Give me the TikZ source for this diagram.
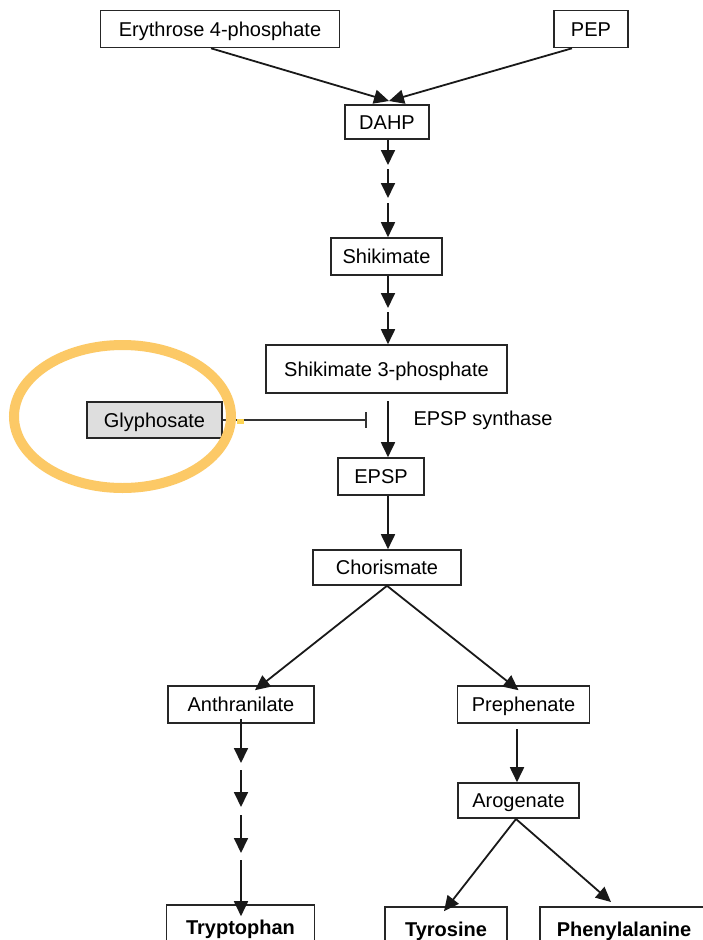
\documentclass[tikz,border=0pt]{standalone}
\usepackage{fontspec}
\setmainfont{Liberation Sans}
\usetikzlibrary{arrows.meta}
\definecolor{hilite}{HTML}{FCC966}
\begin{document}
\begin{tikzpicture}[x=1pt,y=-1pt,
  box/.style={draw=black!85,line width=1.6pt,inner sep=0pt,text height=14.3pt,text depth=0pt,
    font=\fontsize{20}{24}\selectfont},
  endbox/.style={box,font=\fontsize{20}{24}\selectfont\bfseries},
  arr/.style={draw=black!90,line width=1.8pt,-{Triangle[length=15pt,width=14pt]}},
  inhib/.style={draw=black!80,line width=1.6pt,-{Bar[width=16pt,line width=2pt]}},
  lbl/.style={font=\fontsize{20}{24}\selectfont}]
\useasboundingbox (0,0) rectangle (702,940);
\fill[white] (0,0) rectangle (702,940);

% metabolite boxes
\node[box,minimum width=239pt,minimum height=37pt] (e4p)  at (220,29)    {Erythrose 4-phosphate};
\node[box,minimum width=74pt, minimum height=37pt] (pep)  at (591,29)    {PEP};
\node[box,minimum width=84pt, minimum height=34pt] (dahp) at (387,122)   {DAHP};
\node[box,minimum width=111pt,minimum height=37pt] (shik) at (386.5,256.5) {Shikimate};
\node[box,minimum width=241pt,minimum height=48pt] (s3p)  at (386.5,369) {Shikimate 3-phosphate};
\node[box,fill=black!13,minimum width=135pt,minimum height=36pt] (gly) at (154.5,420) {Glyphosate};
\node[box,minimum width=86pt, minimum height=37pt] (epsp) at (381,476.5) {EPSP};
\node[box,minimum width=148pt,minimum height=35pt] (chor) at (387,567.5) {Chorismate};
\node[box,minimum width=146pt,minimum height=37pt] (anth) at (241,704.5) {Anthranilate};
\node[box,minimum width=132pt,minimum height=37pt] (prep) at (523.5,704.5) {Prephenate};
\node[box,minimum width=121pt,minimum height=35pt] (arog) at (518.5,800.5) {Arogenate};
\node[endbox,minimum width=148pt,minimum height=44pt] (tryp) at (240.5,927) {Tryptophan};
\node[endbox,minimum width=122pt,minimum height=44pt] (tyr)  at (446,929)   {Tyrosine};
\node[endbox,minimum width=168pt,minimum height=44pt] (phe)  at (624,929)   {Phenylalanine};
\node[lbl,anchor=west] (enz) at (410,420) {EPSP synthase};

% E4P + PEP condensation
\coordinate (dtop) at (389,101);
\draw[arr] ([xshift=-9pt]e4p.south) -- (dtop);
\draw[arr] ([xshift=-19pt]pep.south) -- (dtop);

% DAHP to shikimate, several steps
\coordinate (a1) at (388,165); \coordinate (a2) at (388,169);
\coordinate (a3) at (388,198); \coordinate (a4) at (388,203);
\draw[arr] (dahp.south -| a1) -- (a1);
\draw[arr] (a2) -- (a3);
\draw[arr] (a4) -- (shik.north -| a4);

% shikimate to shikimate 3-phosphate
\coordinate (b1) at (388,308); \coordinate (b2) at (388,312);
\draw[arr] (shik.south -| b1) -- (b1);
\draw[arr] (b2) -- (s3p.north -| b2);

% EPSP synthase step and its inhibition by glyphosate
\coordinate (c1) at (388,401);
\draw[arr] (c1) -- (epsp.north -| c1);
\coordinate (blk) at (367,420);
\draw[inhib] (gly.east) -- (blk);
\fill[hilite!80!yellow] (237,419) rectangle (244,424);

\draw[arr] (epsp.south -| c1) -- (chor.north -| c1);

% branch point
\draw[arr] (chor.south) -- ([xshift=14pt,yshift=-5pt]anth.north);
\draw[arr] (chor.south) -- ([xshift=-5pt,yshift=-5pt]prep.north);

% tryptophan branch
\coordinate (t1) at (241,763); \coordinate (t2) at (241,770);
\coordinate (t3) at (241,807); \coordinate (t4) at (241,815);
\coordinate (t5) at (241,853); \coordinate (t6) at (241,860);
\draw[arr] ([yshift=5pt]anth.south -| t1) -- (t1);
\draw[arr] (t2) -- (t3);
\draw[arr] (t4) -- (t5);
\draw[arr] (t6) -- ([yshift=-12pt]tryp.north -| t6);

% tyrosine / phenylalanine branch
\coordinate (p1) at (517,729);
\draw[arr] (p1) -- (arog.north -| p1);
\coordinate (g1) at (516,819);
\draw[arr] (g1) -- ([xshift=-2pt,yshift=-5pt]tyr.north);
\draw[arr] (g1) -- (611,902);

% highlight ring round glyphosate
\draw[hilite,line width=10pt] (122.5,416.5) ellipse [x radius=108.5pt,y radius=71.5pt];
\end{tikzpicture}
\end{document}
